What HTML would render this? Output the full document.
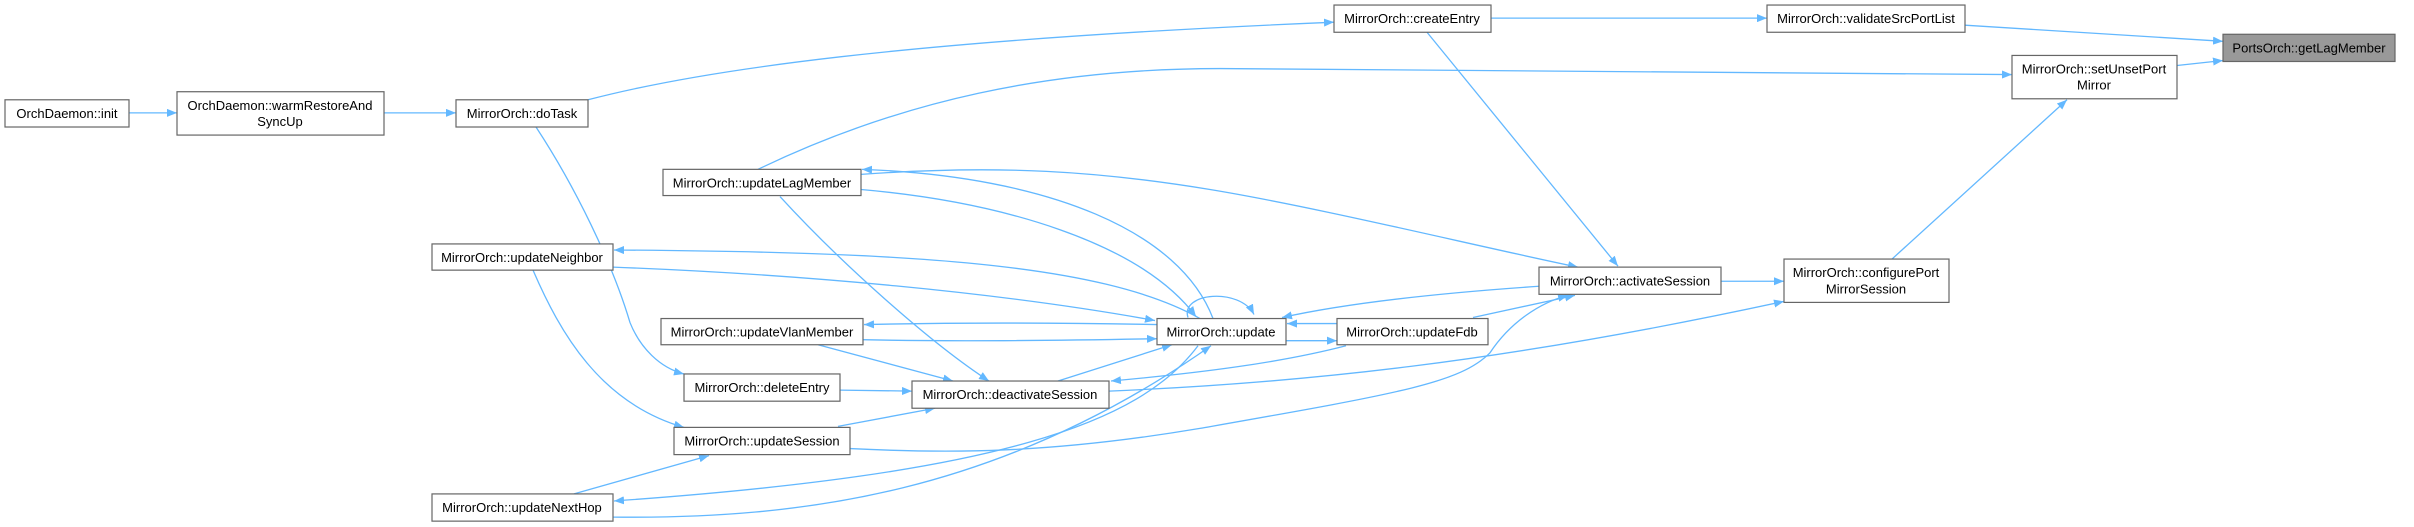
<!DOCTYPE html>
<html><head><meta charset="utf-8"><style>
html,body{margin:0;padding:0;background:#fff;width:2414px;height:527px;overflow:hidden}
svg{display:block}
text{font-family:"Liberation Sans",sans-serif;font-size:13px;fill:#000;text-anchor:middle}
.b{fill:#fff;stroke:#666;stroke-width:1.2}
.e{fill:none;stroke:#63b8ff;stroke-width:1.3}
</style></head><body>
<svg width="2414" height="527" viewBox="0 0 2414 527" xmlns="http://www.w3.org/2000/svg">
<defs><marker id="a" viewBox="0 0 10 8" refX="10" refY="4" markerWidth="10" markerHeight="8" markerUnits="userSpaceOnUse" orient="auto"><path d="M0,0 L10,4 L0,8 z" fill="#63b8ff"/></marker></defs>
<g transform="scale(1,1.008)">
<g class="e" marker-end="url(#a)">
<path d="M129,112 L177,112"/>
<path d="M384,112 L456,112"/>
<path d="M588,99 C700,70 900,40 1334,22"/>
<path d="M536,126 C575,185 612,260 630,320 C640,345 660,365 684,371"/>
<path d="M1491,18 L1767,18"/>
<path d="M1965,25 L2223,41"/>
<path d="M2177,65 L2223,60"/>
<path d="M1892,257 L2067,99"/>
<path d="M1427,32 L1618,264"/>
<path d="M1721,279 L1784,279"/>
<path d="M1109,388 C1300,380 1500,360 1784,299"/>
<path d="M758,168 C900,100 1050,68 1220,68 L2012,74"/>
<path d="M1213,316 C1180,230 1050,175 862,168"/>
<path d="M861,188 C1000,200 1140,240 1196,314"/>
<path d="M861,173 C1000,163 1100,170 1210,188 S1480,245 1578,265"/>
<path d="M1200,316 C1100,260 900,250 614,248"/>
<path d="M613,265 C800,272 1000,290 1155,318"/>
<path d="M533,268 C560,330 600,400 684,424"/>
<path d="M1157,322 C1050,320 950,320 864,322"/>
<path d="M863,337 C950,339 1050,338 1157,336"/>
<path d="M818,342 L953,378"/>
<path d="M780,195 C840,260 930,340 989,378"/>
<path d="M840,387 L912,388"/>
<path d="M838,423 L935,405"/>
<path d="M1058,378 L1172,342"/>
<path d="M1188,315 C1180,290 1240,285 1254,312"/>
<path d="M1286,338 L1337,338"/>
<path d="M1337,321 L1287,321"/>
<path d="M1539,284 C1450,290 1350,300 1282,315"/>
<path d="M1473,315 L1575,293"/>
<path d="M1346,343 C1280,360 1200,370 1111,378"/>
<path d="M1198,343 C1140,420 1000,470 614,497"/>
<path d="M613,513 C800,515 1000,490 1211,343"/>
<path d="M850,445 C950,450 1050,450 1200,425 C1400,390 1460,380 1490,350 C1510,320 1540,300 1568,293"/>
<path d="M574,490 L709,452"/>
</g>
<g>
<rect class="b" x="5" y="99" width="124" height="27"/><text x="67" y="117">OrchDaemon::init</text>
<rect class="b" x="177" y="91" width="207" height="43"/><text x="280" y="109">OrchDaemon::warmRestoreAnd</text><text x="280" y="125">SyncUp</text>
<rect class="b" x="456" y="99" width="132" height="27"/><text x="522" y="117">MirrorOrch::doTask</text>
<rect class="b" x="663" y="168" width="198" height="26"/><text x="762" y="186">MirrorOrch::updateLagMember</text>
<rect class="b" x="432" y="242" width="181" height="26"/><text x="522" y="260">MirrorOrch::updateNeighbor</text>
<rect class="b" x="661" y="316" width="202" height="26"/><text x="762" y="334">MirrorOrch::updateVlanMember</text>
<rect class="b" x="684" y="371" width="156" height="27"/><text x="762" y="389">MirrorOrch::deleteEntry</text>
<rect class="b" x="674" y="424" width="176" height="27"/><text x="762" y="442">MirrorOrch::updateSession</text>
<rect class="b" x="432" y="490" width="181" height="27"/><text x="522" y="508">MirrorOrch::updateNextHop</text>
<rect class="b" x="1334" y="5" width="157" height="27"/><text x="1412" y="23">MirrorOrch::createEntry</text>
<rect class="b" x="1157" y="316" width="129" height="26"/><text x="1221" y="334">MirrorOrch::update</text>
<rect class="b" x="1337" y="316" width="151" height="26"/><text x="1412" y="334">MirrorOrch::updateFdb</text>
<rect class="b" x="912" y="378" width="197" height="27"/><text x="1010" y="396">MirrorOrch::deactivateSession</text>
<rect class="b" x="1539" y="265" width="182" height="27"/><text x="1630" y="283">MirrorOrch::activateSession</text>
<rect class="b" x="1767" y="5" width="198" height="27"/><text x="1866" y="23">MirrorOrch::validateSrcPortList</text>
<rect x="2223" y="34" width="172" height="27" fill="#999" stroke="#666" stroke-width="1.2"/><text x="2309" y="52">PortsOrch::getLagMember</text>
<rect class="b" x="2012" y="55" width="165" height="43"/><text x="2094" y="73">MirrorOrch::setUnsetPort</text><text x="2094" y="89">Mirror</text>
<rect class="b" x="1784" y="257" width="165" height="43"/><text x="1866" y="275">MirrorOrch::configurePort</text><text x="1866" y="291">MirrorSession</text>
</g>
</g>
</svg>
</body></html>
